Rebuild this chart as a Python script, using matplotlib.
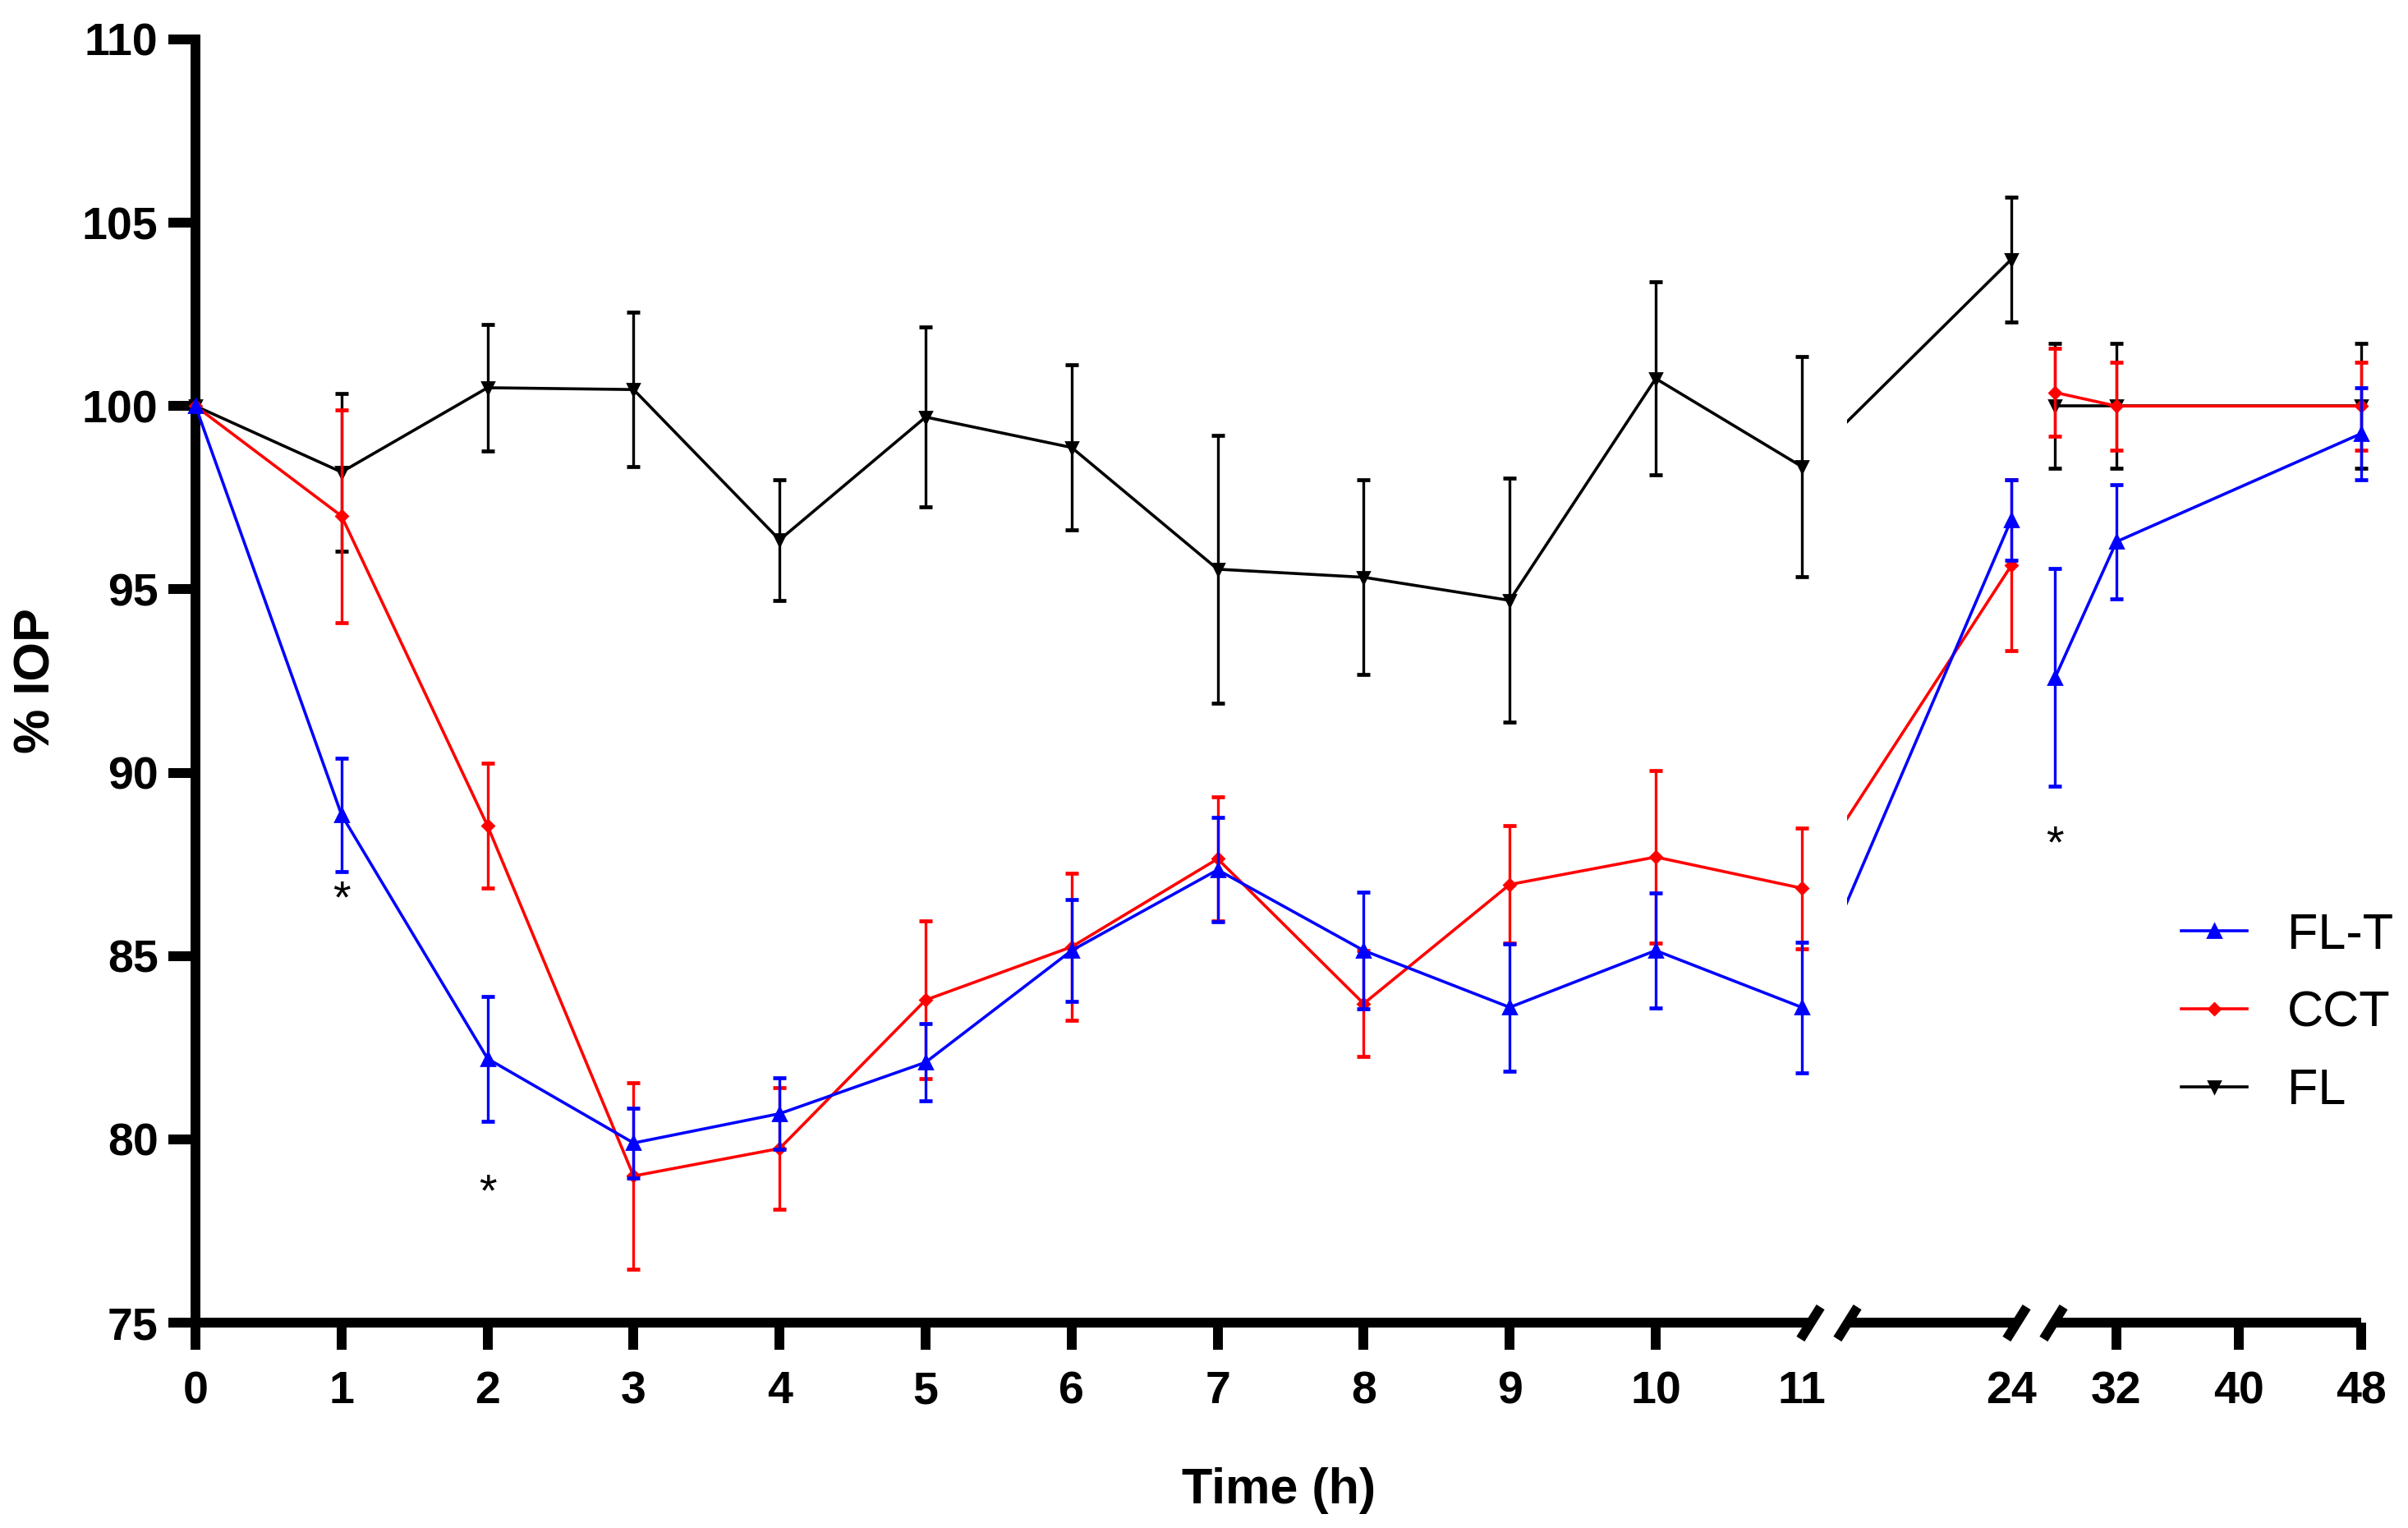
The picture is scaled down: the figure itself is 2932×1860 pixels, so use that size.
import numpy as np
import matplotlib
matplotlib.use("Agg")
import matplotlib.pyplot as plt

plt.rcParams['font.family'] = ['Liberation Sans', 'DejaVu Sans']

# tempo (h) e % IOP (media +- erro)
tempos = np.array([0, 1, 2, 3, 4, 5, 6, 7, 8, 9, 10, 11, 24, 28, 32, 48])

flt_media = np.array([100, 88.85, 82.2, 79.9, 80.7, 82.1, 85.15, 87.35, 85.15, 83.6,
                      85.15, 83.6, 96.9, 92.6, 96.3, 99.25])
flt_erro = np.array([0, 1.55, 1.7, 0.95, 0.97, 1.05, 1.38, 1.42, 1.6, 1.74,
                     1.56, 1.78, 1.1, 2.96, 1.55, 1.25])

cct_media = np.array([100, 97.0, 88.55, 79.0, 79.75, 83.8, 85.25, 87.65, 83.7, 86.95,
                      87.7, 86.85, 95.65, 100.37, 100, 100])
cct_erro = np.array([0, 2.9, 1.7, 2.55, 1.65, 2.15, 2.0, 1.7, 1.45, 1.6,
                     2.35, 1.65, 2.33, 1.2, 1.2, 1.2])

fl_media = np.array([100, 98.2, 100.5, 100.45, 96.35, 99.7, 98.87, 95.55, 95.33, 94.7,
                     100.75, 98.35, 104.0, 100, 100, 100])
fl_erro = np.array([0, 2.15, 1.73, 2.1, 1.65, 2.45, 2.25, 3.65, 2.65, 3.33,
                    2.63, 3.0, 1.7, 1.7, 1.7, 1.7])

# asteriscos de significancia
ast_tempo = [1, 2, 28]
ast_valor = [86.9, 78.9, 88.4]

xticks = [0, 1, 2, 3, 4, 5, 6, 7, 8, 9, 10, 11, 24, 32, 40, 48]
yticks = [75, 80, 85, 90, 95, 100, 105, 110]

# eixo x quebrado: escala linear por partes
brk_t = np.array([0, 11, 24, 28, 48])
brk_u = np.array([0, 11, 12.435, 12.736, 14.832])
s_fim = (brk_u[-1] - brk_u[-2]) / (brk_t[-1] - brk_t[-2])


def fwd(x):
    x = np.asarray(x, dtype=float)
    u = np.interp(x, brk_t, brk_u)
    u = np.where(x < brk_t[0], brk_u[0] + (x - brk_t[0]), u)
    u = np.where(x > brk_t[-1], brk_u[-1] + (x - brk_t[-1]) * s_fim, u)
    return u


def inv(u):
    u = np.asarray(u, dtype=float)
    x = np.interp(u, brk_u, brk_t)
    x = np.where(u < brk_u[0], brk_t[0] + (u - brk_u[0]), x)
    x = np.where(u > brk_u[-1], brk_t[-1] + (u - brk_u[-1]) / s_fim, x)
    return x


fig = plt.figure(figsize=(14.66, 9.3), dpi=200)
ax = fig.add_axes([0.0812, 0.1344, 0.8994, 0.8398])
ax.set_xscale('function', functions=(fwd, inv))

series = [
    ("FL", fl_media, fl_erro, "black", "v", 5.0, 2),
    ("CCT", cct_media, cct_erro, "#ff0000", "D", 3.6, 3),
    ("FL-T", flt_media, flt_erro, "#0000ff", "^", 5.5, 4),
]

handles = {}
parte1 = tempos <= 11
ponte = (tempos == 11) | (tempos == 24)
ponto24 = tempos == 24
parte2 = tempos >= 28
for nome, media, erro, cor, mk, ms, z in series:
    tem_erro = erro > 0
    ax.errorbar(tempos[tem_erro], media[tem_erro], yerr=erro[tem_erro], fmt='none',
                ecolor=cor, elinewidth=1.2, capsize=2.8, capthick=1.7,
                zorder=z, clip_on=False)
    ln, = ax.plot(tempos[parte1], media[parte1], color=cor, lw=1.3, marker=mk, ms=ms,
                  zorder=z, clip_on=False, label=nome)
    # segmento 11 -> 24 atravessa a quebra (fica por baixo da mascara)
    ax.plot(tempos[ponte], media[ponte], color=cor, lw=1.3, zorder=1)
    ax.plot(tempos[ponto24], media[ponto24], color=cor, linestyle='none', marker=mk,
            ms=ms, zorder=z)
    ax.plot(tempos[parte2], media[parte2], color=cor, lw=1.3, marker=mk, ms=ms,
            zorder=z, clip_on=False)
    handles[nome] = ln

# esconde a linha dentro da quebra 11 -> 24
ax.axvspan(11.0, 13.8, color='white', lw=0, zorder=1.5)

for t, v in zip(ast_tempo, ast_valor):
    ax.annotate("*", xy=(t, v), xytext=(0, -11.5), textcoords='offset points',
                ha='center', va='baseline', fontsize=20)

ax.set_xlim(0, 48)
ax.set_ylim(75, 110)
ax.set_xticks(xticks)
ax.set_xticklabels([str(x) for x in xticks])
ax.set_yticks(yticks)

for s in ['top', 'right', 'bottom']:
    ax.spines[s].set_visible(False)
ax.spines['left'].set_linewidth(4.3)

ax.tick_params(axis='both', direction='out', length=11.9, width=4.3, labelsize=20)
ax.tick_params(axis='x', pad=9)
ax.tick_params(axis='y', pad=4.5)
for lab in ax.get_xticklabels() + ax.get_yticklabels():
    lab.set_fontweight('bold')
for tk in ax.xaxis.get_major_ticks():
    if tk.get_loc() in (11, 24):
        tk.tick1line.set_visible(False)

# linha do eixo x com as quebras
xt = ax.get_xaxis_transform()
for a, b in [(0, 11.5), (13.8, 24.45), (27.8, 48)]:
    ax.plot([a, b], [0, 0], transform=xt, color='black', lw=4.3,
            solid_capstyle='butt', clip_on=False, zorder=6)
ax.plot([11.5, 13.8, 24.45, 27.8], [0, 0, 0, 0], transform=xt, linestyle='none',
        marker=[(-1, -1.6), (1, 1.6)], ms=14, mew=4.2, color='black',
        clip_on=False, zorder=7)

ax.set_xlabel("Time (h)", fontsize=22, fontweight='bold', va='baseline')
ax.xaxis.set_label_coords(0.5, -0.1408)
ax.set_ylabel("% IOP", fontsize=22, fontweight='bold', ha='center', va='center')
ax.yaxis.set_label_coords(-0.0732, 0.5)

ax.legend([handles["FL-T"], handles["CCT"], handles["FL"]], ["FL-T", "CCT", "FL"],
          loc='center left', bbox_to_anchor=(0.906, 0.3366),
          bbox_transform=fig.transFigure, frameon=False, fontsize=22,
          handlelength=1.3, handletextpad=0.8, labelspacing=0.62,
          borderpad=0, borderaxespad=0)

fig.savefig("out.png", dpi=200)
